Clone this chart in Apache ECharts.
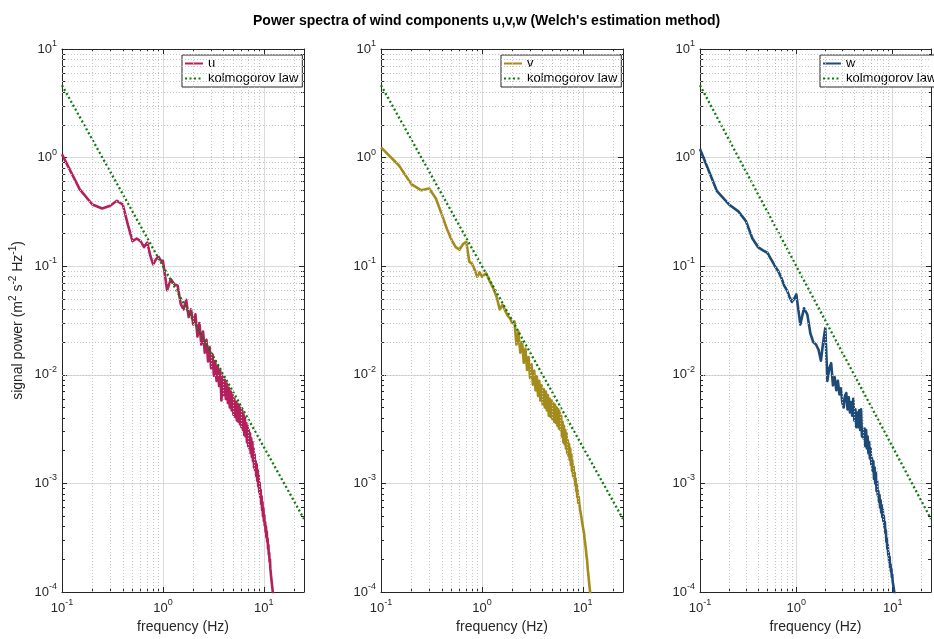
<!DOCTYPE html>
<html><head><meta charset="utf-8">
<script src="https://cdn.jsdelivr.net/npm/echarts@6/dist/echarts.min.js"></script>
<style>html,body{margin:0;padding:0;background:#fff}#c{width:934px;height:639px}</style>
</head><body><div id="c"></div>
<script>
// ---------- data ----------
const freq = [
  0.10,0.15,0.20,0.25,0.30,0.35,0.40,0.45,0.50,0.55,0.60,0.65,0.70,0.75,0.80,0.85,0.90,0.95,1.00,
  1.1,1.2,1.3,1.4,1.5,1.6,1.7,1.8,1.9,2.0,
  2.1,2.2,2.3,2.4,2.5,2.6,2.7,2.8,2.9,3.0,
  3.1,3.2,3.3,3.4,3.5,3.6,3.7,3.8,3.9,4.0,
  4.1,4.2,4.3,4.4,4.5,4.6,4.7,4.8,4.9,5.0,
  5.1,5.2,5.3,5.4,5.5,5.6,5.7,5.8,5.9,6.0,
  6.1,6.2,6.3,6.4,6.5,6.6,6.7,6.8,6.9,7.0,
  7.1,7.2,7.3,7.4,7.5,7.6,7.7,7.8,7.9,8.0,
  8.1,8.2,8.3,8.4,8.5,8.6,8.7,8.8,8.9,9.0,
  9.1,9.2,9.3,9.4,9.5,9.6,9.7,9.8,9.9,10.0,
  10.1,10.2,10.3,10.4,10.5,10.6,10.7,10.8,10.9,11.0,
  11.1,11.2,11.3,11.4,11.5,11.6,11.7,11.8,11.9,12.0,
  12.1,12.2,12.3,12.4,12.5
];
const uPower = [
  1.07,0.51,0.37,0.34,0.36,0.40,0.37,0.24,0.17,0.18,0.17,0.15,0.165,0.125,0.104,0.115,0.123,0.113,0.112,
  0.060,0.076,0.068,0.066,0.045,0.040,0.049,0.034,0.040,0.029,
  0.036,0.0225,0.030,0.019,0.025,0.016,0.021,0.0133,0.018,0.0115,
  0.0154,0.0098,0.0134,0.0088,0.0120,0.0079,0.0108,0.0058,0.0098,0.0065,
  0.0090,0.0060,0.0083,0.0055,0.0076,0.0050,0.0070,0.0047,0.0065,0.0043,
  0.0060,0.0041,0.0056,0.0038,0.0054,0.0037,0.0052,0.0035,0.0049,0.0033,
  0.0047,0.0031,0.0043,0.0028,0.0040,0.0027,0.0036,0.0024,0.0034,0.0022,
  0.0031,0.0021,0.0029,0.0019,0.0026,0.00175,0.0024,0.0016,0.0021,0.0014,
  0.00185,0.0013,0.0016,0.00117,0.0015,0.00106,0.00132,0.00094,0.00117,0.00083,
  0.00101,0.00075,0.00087,0.00065,0.00076,0.00057,0.00067,0.00050,0.00059,0.00045,
  0.00051,0.00041,0.00044,0.00036,0.00040,0.00032,0.00036,0.00029,0.00031,0.00025,
  0.00027,0.00022,0.00023,0.00019,0.00020,0.000165,0.00017,0.00014,0.000145,0.00012,
  0.000125,0.000105,0.000105,0.00009,0.00009
];
const vPower = [
  1.24,0.85,0.57,0.50,0.52,0.42,0.30,0.22,0.175,0.15,0.142,0.160,0.168,0.11,0.105,0.092,0.080,0.088,0.080,
  0.086,0.072,0.062,0.052,0.040,0.044,0.039,0.035,0.033,0.030,
  0.031,0.019,0.025,0.016,0.020,0.0129,0.0174,0.0111,0.0146,0.0093,
  0.0125,0.0081,0.0109,0.0072,0.0097,0.0064,0.0088,0.0058,0.0080,0.0053,
  0.0074,0.0050,0.0070,0.0047,0.0065,0.0042,0.0060,0.0041,0.0058,0.0039,
  0.0055,0.0037,0.0053,0.0036,0.0050,0.0034,0.0048,0.0032,0.0046,0.0031,
  0.0042,0.0027,0.0037,0.0024,0.0034,0.0023,0.0031,0.0021,0.0029,0.0019,
  0.0025,0.0018,0.0023,0.00165,0.0021,0.00148,0.00184,0.0013,0.0016,0.00117,
  0.00143,0.00111,0.00125,0.00097,0.0011,0.00085,0.00097,0.00075,0.00086,0.00066,
  0.00075,0.00066,0.00064,0.00057,0.00056,0.00051,0.00049,0.00045,0.00044,0.00040,
  0.00039,0.00036,0.00034,0.00031,0.00029,0.00027,0.00025,0.00023,0.00021,0.00020,
  0.00018,0.00016,0.000150,0.000138,0.000126,0.000117,0.000108,0.000100,0.000093,0.000085
];
const wPower = [
  1.20,0.49,0.37,0.32,0.26,0.18,0.150,0.140,0.133,0.115,0.100,0.090,0.078,0.066,0.060,0.052,0.047,0.050,0.055,
  0.029,0.041,0.036,0.024,0.020,0.019,0.017,0.0135,0.020,0.027,
  0.0088,0.0115,0.0128,0.0080,0.0095,0.0072,0.0088,0.0066,0.0075,0.0056,
  0.0050,0.0064,0.0068,0.0048,0.0062,0.0045,0.0056,0.0042,0.0060,0.0038,
  0.0048,0.0033,0.0045,0.0033,0.0047,0.0031,0.0048,0.0027,0.0030,0.0026,
  0.0032,0.0022,0.0031,0.0021,0.0027,0.0019,0.0024,0.0017,0.0021,0.0015,
  0.0017,0.0013,0.0016,0.00110,0.0014,0.00100,0.00125,0.00085,0.00105,0.00078,
  0.00085,0.00068,0.00078,0.00060,0.00070,0.00054,0.00063,0.00049,0.00057,0.00045,
  0.00050,0.00040,0.00044,0.00035,0.00037,0.00029,0.00031,0.00025,0.00027,0.00022,
  0.00023,0.00019,0.00021,0.00017,0.00018,0.000155,0.000163,0.000138,0.000145,0.000125,
  0.000130,0.000112,0.000115,0.000100,0.000102,0.000090,0.000090,0.000082
];
const kolFreq = [0.1, 25];
const kolPower = [4.64, 0.00047];

const xMinorTicks = [0.2,0.3,0.4,0.5,0.6,0.7,0.8,0.9,2,3,4,5,6,7,8,9,20];
const yMinorTicks = [
  0.0002,0.0003,0.0004,0.0005,0.0006,0.0007,0.0008,0.0009,
  0.002,0.003,0.004,0.005,0.006,0.007,0.008,0.009,
  0.02,0.03,0.04,0.05,0.06,0.07,0.08,0.09,
  0.2,0.3,0.4,0.5,0.6,0.7,0.8,0.9,
  2,3,4,5,6,7,8,9
];
const componentNames = ['u', 'v', 'w'];
const kolName = 'kolmogorov law';
const titleText = "Power spectra of wind components u,v,w (Welch's estimation method)";
const xName = 'frequency (Hz)';
const yName = 'signal power (m{s|2} s{s|-2} Hz{s|-1})';

// ---------- styling ----------
const FONT = '"Liberation Sans", Arial, Helvetica, sans-serif';
const INK = '#262626';
const colors = ['#b3205c', '#a38b1c', '#1e4a78'];
const kolColor = '#0a7a0a';
const gridLeft = [62, 381, 700];
const gridTop = 49, gridW = 242, gridH = 544;

function decadeLabel(v) {
  const l = Math.log10(v), e = Math.round(l);
  if (Math.abs(l - e) > 1e-6) return '';
  return '{b|10}{s|' + e + '}';
}
const labelRich = {
  b: { fontSize: 13, lineHeight: 20, fontFamily: FONT, color: INK },
  s: { fontSize: 9, lineHeight: 10, verticalAlign: 'top', fontFamily: FONT, color: INK }
};

const grid = [], xAxis = [], yAxis = [], series = [], legend = [];
const valueSets = [uPower, vPower, wPower];

for (let i = 0; i < 3; i++) {
  grid.push({ left: gridLeft[i], top: gridTop, width: gridW, height: gridH, show: false });
  const baseX = { gridIndex: i, type: 'log', logBase: 10, min: 0.1, max: 25 };
  const baseY = { gridIndex: i, type: 'log', logBase: 10, min: 0.0001, max: 10 };
  const hide = { show: false };
  xAxis.push(Object.assign({}, baseX, {
    position: 'bottom',
    axisLine: { show: true, onZero: false, lineStyle: { color: INK, width: 1 } },
    axisTick: { show: true, inside: true, length: 5, lineStyle: { color: INK } },
    axisLabel: { formatter: decadeLabel, rich: labelRich, margin: 6 },
    splitLine: { show: true, lineStyle: { color: '#dadada', width: 1 } },
    name: xName, nameLocation: 'middle', nameGap: 28,
    nameTextStyle: { fontSize: 14, color: INK, fontFamily: FONT }
  }));
  xAxis.push(Object.assign({}, baseX, {
    position: 'top',
    axisLine: { show: true, onZero: false, lineStyle: { color: INK, width: 1 } },
    axisTick: { show: true, inside: true, length: 5, lineStyle: { color: INK } },
    axisLabel: hide, splitLine: hide
  }));
  ['bottom', 'top'].forEach(pos => xAxis.push(Object.assign({}, baseX, {
    position: pos,
    axisLine: { show: false, onZero: false },
    axisTick: { show: true, inside: true, length: 3, customValues: xMinorTicks, lineStyle: { color: INK } },
    axisLabel: hide, splitLine: hide
  })));
  yAxis.push(Object.assign({}, baseY, {
    position: 'left',
    axisLine: { show: true, onZero: false, lineStyle: { color: INK, width: 1 } },
    axisTick: { show: true, inside: true, length: 5, lineStyle: { color: INK } },
    axisLabel: { formatter: decadeLabel, rich: labelRich, margin: 5 },
    splitLine: { show: true, lineStyle: { color: '#dadada', width: 1 } },
    name: i === 0 ? yName : '', nameLocation: 'middle', nameGap: 34,
    nameTextStyle: {
      fontSize: 14, lineHeight: 20, color: INK, fontFamily: FONT,
      rich: { s: { fontSize: 10, lineHeight: 10, verticalAlign: 'top', color: INK, fontFamily: FONT } }
    }
  }));
  yAxis.push(Object.assign({}, baseY, {
    position: 'right',
    axisLine: { show: true, onZero: false, lineStyle: { color: INK, width: 1 } },
    axisTick: { show: true, inside: true, length: 5, lineStyle: { color: INK } },
    axisLabel: hide, splitLine: hide
  }));
  ['left', 'right'].forEach(pos => yAxis.push(Object.assign({}, baseY, {
    position: pos,
    axisLine: { show: false, onZero: false },
    axisTick: { show: true, inside: true, length: 3, customValues: yMinorTicks, lineStyle: { color: INK } },
    axisLabel: hide, splitLine: hide
  })));

  const xi = 4 * i, yi = 4 * i;
  series.push({
    type: 'line', xAxisIndex: xi, yAxisIndex: yi, data: [], silent: true, z: 1,
    markLine: {
      silent: true, symbol: 'none', animation: false,
      label: { show: false },
      lineStyle: { color: '#c4c4c4', type: [1, 2], width: 1 },
      emphasis: { disabled: true },
      data: xMinorTicks.map(v => ({ xAxis: v })).concat(yMinorTicks.map(v => ({ yAxis: v })))
    }
  });
  series.push({
    type: 'line', name: componentNames[i], xAxisIndex: xi, yAxisIndex: yi,
    data: valueSets[i].map((p, k) => [freq[k], p]),
    symbol: 'none', showSymbol: false, clip: true, z: 3,
    lineStyle: { color: colors[i], width: 2.6, join: 'round' }, itemStyle: { color: colors[i] }
  });
  series.push({
    type: 'line', name: kolName, xAxisIndex: xi, yAxisIndex: yi,
    data: kolPower.map((p, k) => [kolFreq[k], p]),
    symbol: 'none', showSymbol: false, clip: true, z: 4,
    lineStyle: { color: kolColor, width: 2.3, type: [2, 2.5] }, itemStyle: { color: kolColor }
  });
  legend.push({
    left: gridLeft[i] + 120, top: 55, orient: 'vertical',
    data: [componentNames[i], kolName],
    selectedMode: false,
    backgroundColor: '#fff', borderColor: INK, borderWidth: 1,
    padding: [2, 4, 2, 2], itemGap: 2, itemWidth: 18, itemHeight: 14,
    itemStyle: { opacity: 0, borderWidth: 0 },
    textStyle: { fontSize: 13, color: '#000', fontFamily: FONT }
  });
}

const chart = echarts.init(document.getElementById('c'), null, { renderer: 'canvas' });
chart.setOption({
  animation: false,
  backgroundColor: '#fff',
  title: {
    text: titleText, left: 248, top: 9,
    textStyle: { fontSize: 14, fontWeight: 'bold', color: '#000', fontFamily: FONT }
  },
  grid, xAxis, yAxis, series, legend
});
</script>
</body></html>
